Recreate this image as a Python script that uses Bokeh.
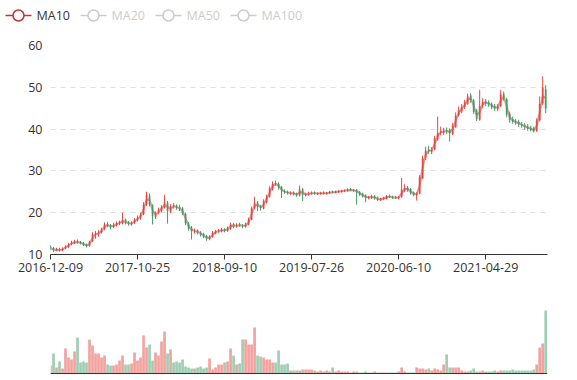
import pandas as pd
from bokeh.plotting import figure
from bokeh.models import ColumnDataSource, Range1d, FixedTicker, Span
from bokeh.core.properties import value
from bokeh.layouts import column
from bokeh.embed import file_html
from bokeh.resources import INLINE

# ---- data (one bar per ~7 trading days) ----
open_ = [12.0, 11.5, 11.0, 11.3, 11.0, 11.5, 11.8, 12.5, 12.7, 13.2,
         12.9, 12.8, 12.4, 12.1, 13.2, 14.6, 15.0, 15.3, 16.1, 17.3,
         17.0, 16.6, 17.0, 17.5, 17.5, 18.3, 17.7, 17.2, 17.6, 18.2,
         18.8, 19.6, 22.0, 24.0, 21.8, 19.0, 20.0, 20.5, 21.2, 22.4,
         20.2, 21.8, 21.5, 21.3, 21.0, 19.7, 17.4, 16.4, 15.5, 15.7,
         15.2, 14.9, 14.4, 13.7, 14.3, 15.1, 15.6, 15.6, 16.0, 15.7,
         16.2, 17.3, 16.8, 17.2, 16.9, 16.7, 17.2, 18.4, 21.2, 22.4,
         21.4, 21.0, 22.5, 23.9, 25.6, 27.1, 26.9, 26.1, 25.2, 24.9,
         24.6, 24.8, 24.5, 24.1, 25.6, 24.2, 24.3, 24.6, 24.8, 24.5,
         24.5, 24.8, 24.5, 24.7, 25.0, 24.8, 25.0, 25.1, 25.2, 25.3,
         25.6, 25.3, 25.4, 24.9, 24.5, 24.1, 23.5, 23.6, 23.9, 23.6,
         23.0, 23.3, 23.4, 24.0, 23.8, 23.7, 23.5, 23.8, 25.3, 25.9,
         25.6, 24.8, 24.2, 24.6, 28.3, 33.2, 35.1, 34.6, 35.2, 37.6,
         39.2, 39.2, 39.7, 39.8, 38.8, 40.6, 43.4, 44.3, 45.3, 46.1,
         48.0, 46.8, 44.4, 42.3, 45.7, 46.6, 46.3, 45.9, 45.5, 44.8,
         45.6, 48.4, 47.1, 43.6, 42.3, 41.8, 41.7, 41.1, 40.9, 40.6,
         40.3, 40.1, 39.6, 42.2, 46.2, 49.5]
close = [11.5, 11.0, 11.2, 11.0, 11.4, 11.9, 12.4, 12.8, 13.1, 12.9,
         12.7, 12.3, 12.0, 13.0, 14.8, 14.9, 15.2, 16.0, 17.2, 17.0,
         16.5, 17.1, 17.4, 17.6, 18.2, 17.6, 17.3, 17.5, 18.3, 18.7,
         19.5, 21.9, 24.3, 22.0, 19.2, 19.8, 20.6, 21.3, 22.5, 20.3,
         21.5, 21.6, 21.2, 21.0, 19.8, 17.5, 16.2, 15.7, 15.6, 15.3,
         14.8, 14.3, 13.8, 14.2, 15.2, 15.5, 15.7, 15.9, 15.7, 16.3,
         17.2, 16.7, 17.0, 17.0, 16.8, 17.1, 18.3, 21.0, 22.3, 21.5,
         21.1, 22.7, 23.8, 25.8, 26.9, 27.0, 26.0, 25.1, 25.0, 24.7,
         24.7, 24.5, 24.2, 25.5, 24.3, 24.4, 24.6, 24.7, 24.6, 24.6,
         24.7, 24.6, 24.7, 24.9, 24.9, 25.0, 25.1, 25.2, 25.3, 25.5,
         25.4, 25.4, 24.9, 24.4, 24.0, 23.6, 23.7, 23.8, 23.5, 23.1,
         23.3, 23.5, 23.9, 23.8, 23.6, 23.6, 23.7, 25.5, 25.8, 25.5,
         24.7, 24.3, 24.5, 28.5, 33.0, 34.8, 34.8, 35.0, 37.8, 39.0,
         39.4, 39.5, 39.6, 39.0, 40.8, 43.2, 44.5, 45.2, 46.3, 47.8,
         47.0, 44.2, 42.5, 45.5, 46.5, 46.2, 46.0, 45.3, 45.0, 45.4,
         48.2, 47.4, 43.5, 42.2, 41.9, 41.6, 41.2, 40.9, 40.5, 40.2,
         40.0, 39.5, 42.0, 46.0, 49.8, 45.0]
high = [12.3, 11.8, 11.6, 11.6, 11.7, 12.2, 12.8, 13.3, 13.5, 13.6,
        13.2, 13.0, 12.6, 13.3, 15.3, 15.6, 15.8, 16.4, 17.7, 17.8,
        17.3, 17.6, 17.9, 18.1, 20.0, 18.6, 18.0, 17.9, 18.7, 19.3,
        20.0, 22.5, 25.0, 24.6, 22.0, 20.3, 21.2, 21.8, 24.3, 22.8,
        22.0, 22.3, 22.0, 21.9, 21.4, 20.0, 17.8, 16.8, 16.2, 16.0,
        15.6, 15.2, 14.7, 14.6, 15.6, 15.9, 16.1, 16.4, 16.3, 16.7,
        17.6, 17.6, 17.5, 17.6, 17.3, 17.6, 18.8, 21.5, 23.8, 22.8,
        21.9, 23.2, 24.3, 26.3, 27.5, 27.7, 27.3, 26.4, 25.6, 25.3,
        25.1, 25.1, 24.8, 26.5, 25.9, 24.8, 25.0, 25.1, 25.1, 24.9,
        25.0, 25.1, 25.0, 25.2, 25.3, 25.3, 25.4, 25.5, 25.6, 25.8,
        25.9, 25.7, 25.7, 25.2, 24.8, 24.4, 24.0, 24.3, 24.2, 23.9,
        23.6, 23.8, 24.2, 24.3, 24.1, 24.0, 24.0, 28.3, 26.8, 26.4,
        25.9, 25.1, 24.9, 29.0, 33.6, 35.8, 36.0, 35.7, 38.4, 43.0,
        40.6, 40.3, 40.4, 40.2, 41.5, 44.0, 45.4, 46.0, 47.0, 48.5,
        48.6, 47.2, 44.8, 49.4, 47.4, 47.2, 46.9, 46.4, 46.0, 46.0,
        49.4, 49.0, 47.5, 44.2, 43.0, 42.4, 42.2, 41.7, 41.5, 41.2,
        40.8, 40.6, 42.6, 47.8, 52.6, 50.5]
low = [11.0, 10.6, 10.8, 10.7, 10.8, 11.3, 11.6, 12.2, 12.5, 12.6,
       12.4, 12.0, 11.7, 11.9, 13.0, 13.8, 14.3, 15.0, 15.8, 16.5,
       16.0, 16.3, 16.7, 17.0, 17.2, 17.2, 16.9, 16.9, 17.3, 17.9,
       18.3, 19.4, 21.6, 21.5, 17.2, 18.5, 19.6, 20.1, 21.0, 17.4,
       19.9, 21.0, 20.7, 20.4, 19.4, 17.0, 15.7, 13.6, 15.0, 14.8,
       14.3, 13.9, 13.3, 13.4, 14.0, 14.8, 15.2, 15.3, 15.3, 15.4,
       15.9, 16.3, 16.4, 16.6, 16.3, 16.4, 17.0, 18.2, 20.8, 20.4,
       20.5, 20.8, 22.2, 23.6, 25.3, 26.4, 25.5, 23.5, 24.5, 24.3,
       24.2, 24.1, 23.8, 23.9, 22.8, 23.9, 24.1, 24.3, 24.3, 24.2,
       24.3, 24.3, 24.3, 24.5, 24.6, 24.6, 24.7, 24.8, 24.9, 25.0,
       25.1, 25.0, 21.9, 24.0, 23.6, 22.5, 23.2, 23.3, 23.1, 22.8,
       22.8, 23.0, 23.2, 23.5, 23.3, 23.3, 23.2, 23.6, 24.9, 25.0,
       24.3, 23.9, 22.9, 24.4, 28.0, 32.6, 34.0, 34.0, 34.9, 37.2,
       38.5, 38.6, 38.8, 37.0, 38.5, 40.3, 43.0, 43.8, 44.8, 45.8,
       46.3, 43.6, 41.9, 42.0, 45.0, 45.5, 45.3, 44.7, 44.3, 44.3,
       45.3, 46.8, 42.8, 41.5, 41.3, 41.0, 40.5, 40.3, 39.8, 39.6,
       39.5, 39.2, 39.3, 41.8, 45.8, 43.8]
volume = [8, 20, 6, 12, 5, 25, 16, 14, 22, 36,
          11, 12, 11, 34, 28, 20, 20, 16, 18, 9,
          8, 8, 9, 13, 18, 9, 9, 10, 21, 13,
          16, 38, 26, 29, 13, 21, 18, 32, 42, 20,
          24, 11, 12, 11, 14, 7, 6, 5, 5, 6,
          7, 5, 6, 15, 4, 6, 9, 9, 11, 12,
          25, 18, 9, 10, 34, 34, 29, 29, 46, 18,
          17, 16, 14, 14, 11, 11, 23, 9, 9, 10,
          3, 3, 3, 3, 4, 4, 4, 4, 3, 2,
          3, 2, 3, 2, 6, 2, 3, 2, 2, 2,
          1, 2, 2, 1, 1, 2, 1, 1, 2, 1,
          1, 1, 1, 1, 1, 1, 2, 6, 2, 1,
          1, 1, 6, 5, 5, 4, 5, 3, 5, 4,
          3, 9, 19, 6, 6, 6, 6, 3, 2, 2,
          3, 5, 2, 2, 3, 2, 2, 2, 3, 2,
          3, 3, 3, 3, 4, 3, 3, 3, 3, 3,
          3, 4, 9, 26, 30, 63]
tick_index = [0, 29, 58, 87, 116, 145]
tick_labels = ["2016-12-09", "2017-10-25", "2018-09-10", "2019-07-26", "2020-06-10", "2021-04-29"]
legend_names = ["MA10", "MA20", "MA50", "MA100"]
legend_shown = [True, False, False, False]
y_ticks = [10, 20, 30, 40, 50, 60]

UP = "#e5483f"
DOWN = "#3f9e68"
MA_COLOR = "#c23531"
INACTIVE = "#cccccc"
FONT = "Open Sans"

n = len(close)
xs = list(range(n))
colors = [UP if c >= o else DOWN for o, c in zip(open_, close)]
ma10 = pd.Series(close).rolling(2, min_periods=1).mean().tolist()

src = ColumnDataSource(dict(
    x=xs, open=open_, close=close, high=high, low=low,
    top=[max(o, c) for o, c in zip(open_, close)],
    bottom=[min(o, c) for o, c in zip(open_, close)],
    color=colors, volume=volume, ma10=ma10))

xr = Range1d(0, n - 1 + 0.6)

# ---- legend strip (its own root, pixel units) ----
lg = figure(width=577, height=30, x_range=Range1d(0, 577), y_range=Range1d(0, 30),
            output_backend="svg", toolbar_location=None,
            x_axis_location=None, y_axis_location=None,
            min_border_left=0, min_border_right=0, min_border_top=0, min_border_bottom=0)
lg.outline_line_color = None
lg.grid.visible = False
item_step = 75
k = list(range(len(legend_names)))
lcol = [MA_COLOR if s else INACTIVE for s in legend_shown]
tcol = ["#333333" if s else INACTIVE for s in legend_shown]
lsrc = ColumnDataSource(dict(
    x0=[5 + item_step * i for i in k], x1=[31 + item_step * i for i in k],
    xc=[18 + item_step * i for i in k], xt=[36 + item_step * i for i in k],
    y=[15] * len(k), name=legend_names, lcol=lcol, tcol=tcol))
lg.segment(x0="x0", y0="y", x1="x1", y1="y", line_color="lcol", line_width=1.6, source=lsrc)
lg.scatter(x="xc", y="y", marker="circle", size=11, fill_color="white",
           line_color="lcol", line_width=1.5, source=lsrc)
lg.text(x="xt", y="y", text="name", text_color="tcol", text_align="left",
        text_baseline="middle", text_font=value(FONT), text_font_size="12.5px", source=lsrc)

# ---- price chart ----
p = figure(width=577, height=258, x_range=xr, y_range=Range1d(10, 60),
           output_backend="svg", toolbar_location=None,
           min_border_left=50, min_border_right=30, min_border_top=15, min_border_bottom=34)
p.outline_line_color = None
p.xgrid.visible = False
p.ygrid.grid_line_color = "#e0e0e0"
p.ygrid.grid_line_dash = "5 5"

p.yaxis.ticker = FixedTicker(ticks=y_ticks)
p.yaxis.axis_line_color = None
p.yaxis.major_tick_line_color = None
p.yaxis.minor_tick_line_color = None
p.yaxis.major_tick_out = 0
p.yaxis.major_tick_in = 0
p.yaxis.major_label_standoff = 8

p.xaxis.ticker = FixedTicker(ticks=tick_index)
p.xaxis.major_label_overrides = {k_: v_ for k_, v_ in zip(tick_index, tick_labels)}
p.xaxis.axis_line_color = "#333333"
p.xaxis.major_tick_line_color = "#333333"
p.xaxis.minor_tick_line_color = None
p.xaxis.major_tick_out = 5
p.xaxis.major_tick_in = 0
p.xaxis.major_label_standoff = 3

for ax in (p.xaxis, p.yaxis):
    ax.major_label_text_font = FONT
    ax.major_label_text_font_size = "12.5px"
    ax.major_label_text_color = "#333333"

p.line(x="x", y="ma10", line_color=MA_COLOR, line_alpha=0.5, line_width=2, source=src)
p.segment(x0="x", y0="low", x1="x", y1="high", line_color="color", line_width=1, source=src)
p.vbar(x="x", width=0.35, top="top", bottom="bottom", fill_color="color",
       line_color="color", line_width=0.6, source=src)

# ---- volume chart ----
v = figure(width=577, height=86, x_range=xr, y_range=Range1d(-1, 72),
           output_backend="svg", toolbar_location=None,
           x_axis_location=None, y_axis_location=None,
           min_border_left=50, min_border_right=30, min_border_top=13, min_border_bottom=0)
v.outline_line_color = None
v.grid.visible = False
v.vbar(x="x", width=0.9, top="volume", bottom=0, fill_color="color",
       fill_alpha=0.5, line_color=None, source=src)
v.add_layout(Span(location=0, dimension="width", line_color="#333333", line_width=1))

charts = column(p, v)
open("out.html", "w").write(file_html([lg, charts], INLINE))
